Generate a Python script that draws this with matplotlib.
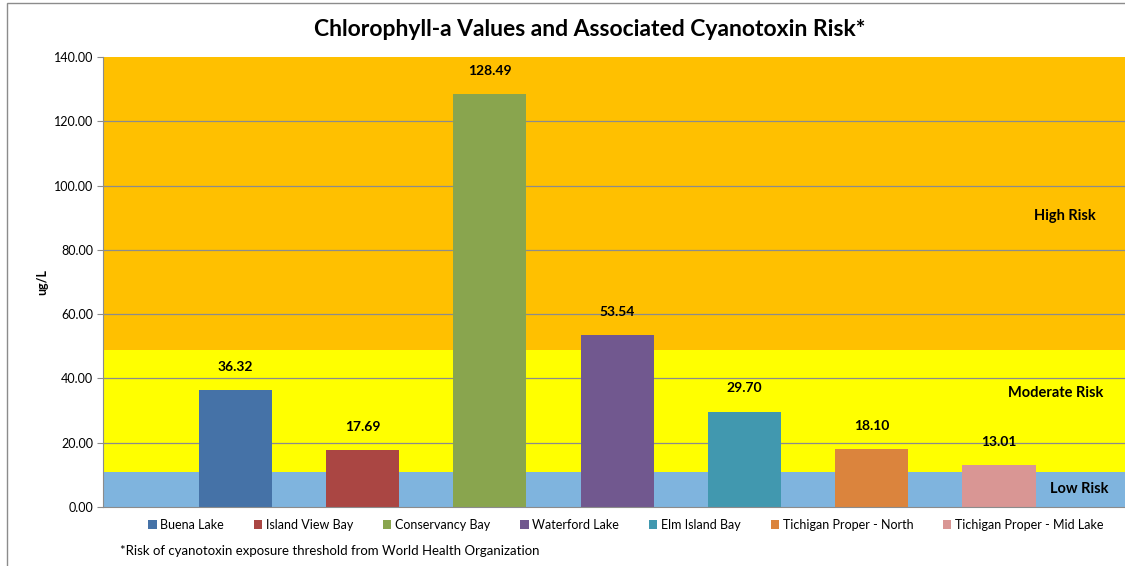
import matplotlib.pyplot as plt
from matplotlib.patches import Rectangle

plt.rcParams['font.family'] = ['Lato', 'DejaVu Sans']

sites = ["Buena Lake", "Island View Bay", "Conservancy Bay", "Waterford Lake",
         "Elm Island Bay", "Tichigan Proper - North", "Tichigan Proper - Mid Lake"]
chl_a = [36.32, 17.69, 128.49, 53.54, 29.70, 18.10, 13.01]
bar_colors = ["#4572A7", "#AA4643", "#89A54E", "#71588F",
              "#4198AF", "#DB843D", "#D99694"]

# risk bands (ug/L)
band_edges = [0, 11, 49, 140]
band_colors = ["#7FB4DE", "#FFFF00", "#FFC000"]
band_labels = ["Low Risk", "Moderate Risk", "High Risk"]
band_label_y = [5.5, 35.5, 90.5]

yticks = [0, 20, 40, 60, 80, 100, 120, 140]

fig = plt.figure(figsize=(11.25, 5.66), dpi=100)
ax = fig.add_axes([103 / 1125, 59 / 566, 1022 / 1125, 450 / 566])

xmin, xmax = -0.04, 7.99
for lo, hi, c in zip(band_edges[:-1], band_edges[1:], band_colors):
    ax.axhspan(lo, hi, color=c, zorder=0, lw=0)

for y in yticks[1:-1]:
    ax.axhline(y, color="#8C8C8C", lw=0.9, zorder=1)

xs = list(range(1, len(sites) + 1))
bars = ax.bar(xs, chl_a, width=0.574, color=bar_colors, zorder=2)
for x, v in zip(xs, chl_a):
    ax.text(x, v + 5.3, f"{v:.2f}", ha="center", va="bottom",
            fontsize=10, fontweight="bold", zorder=3)

label_right = [7.86, 7.82, 7.76]
for lab, yy, xr in zip(band_labels, band_label_y, label_right):
    ax.text(xr, yy, lab, ha="right", va="center",
            fontsize=10.5, fontweight="bold", zorder=3)

ax.set_xlim(xmin, xmax)
ax.set_ylim(0, 140)
ax.set_yticks(yticks)
ax.set_yticklabels([f"{v:.2f}" for v in yticks], fontsize=9)
ax.set_xticks([])
ax.tick_params(axis="y", length=4, color="#8C8C8C", pad=3)
for s in ["top", "right"]:
    ax.spines[s].set_visible(False)
for s in ["left", "bottom"]:
    ax.spines[s].set_color("#8C8C8C")
ax.set_ylabel("ug/L", fontsize=9, fontweight="bold", labelpad=4)

fig.text(590 / 1125, 1 - 30 / 566,
         "Chlorophyll-a Values and Associated Cyanotoxin Risk*",
         ha="center", va="center", fontsize=16.5, fontweight="bold")

leg = fig.legend(bars, sites, loc="center", ncol=7,
                 bbox_to_anchor=(626 / 1125, 1 - 525 / 566), frameon=False,
                 fontsize=9, handlelength=0.65, handleheight=0.65,
                 handletextpad=0.3, columnspacing=2.4)

fig.text(120 / 1125, 1 - 551 / 566,
         "*Risk of cyanotoxin exposure threshold from World Health Organization",
         ha="left", va="center", fontsize=9.5)

fig.patches.append(Rectangle((7 / 1125, -0.05), 1.1, 1.05 - 3 / 566,
                             transform=fig.transFigure, fill=False,
                             ec="#8C8C8C", lw=1.0))

fig.savefig("out.png", dpi=100)
